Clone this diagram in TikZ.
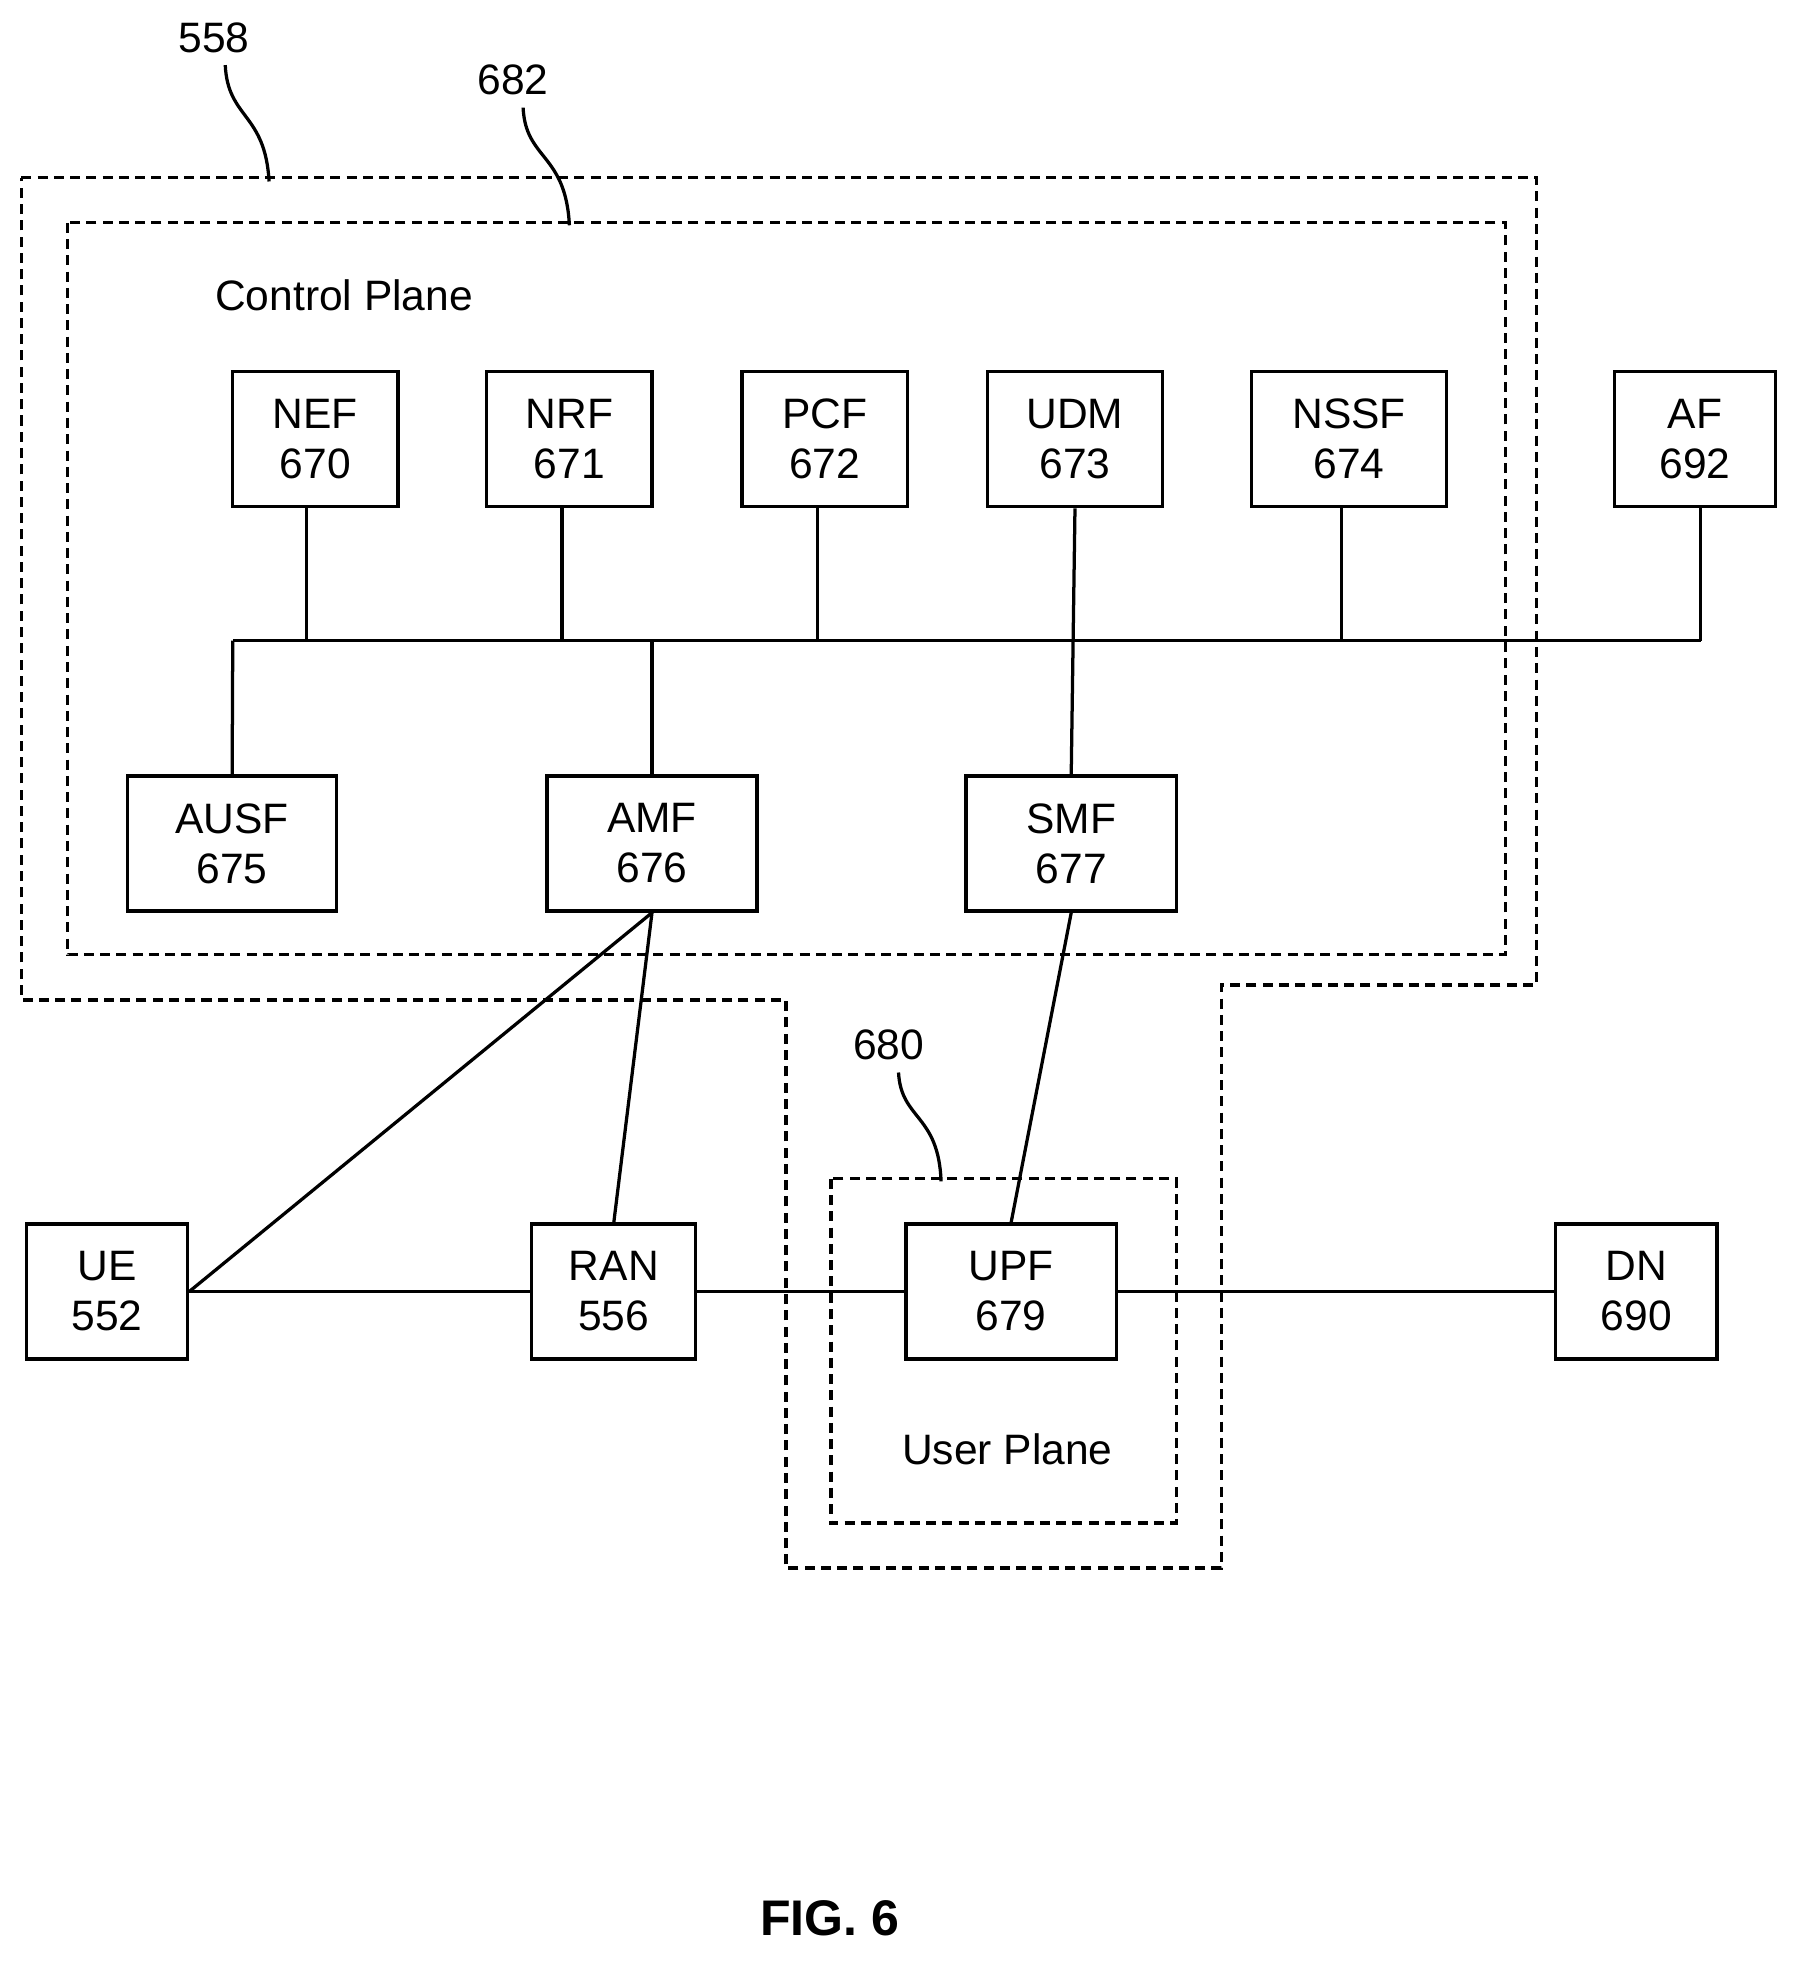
\documentclass[tikz,border=0pt]{standalone}
\usepackage{fontspec}
\setmainfont{Liberation Sans}
\usetikzlibrary{positioning}
\begin{document}
\begin{tikzpicture}[x=0.5pt,y=-0.5pt,
    font=\fontsize{17}{20}\selectfont,
    every node/.style={inner sep=0pt},
    nf/.style={draw, line width=1.3pt, align=center, minimum height=54pt},
    plane/.style={draw, line width=1.3pt, dash pattern=on 4pt off 2.5pt},
    link/.style={line width=1.3pt},
    lead/.style={line width=1.3pt},
  ]
  \useasboundingbox (0,0) rectangle (1440,1571);
  % planes
  \draw[plane] (17,142) -- (1228,142) -- (1228,787) -- (976,787) -- (976,1253)
    -- (628,1253) -- (628,799) -- (17,799) -- cycle;
  \draw[plane] (54,178) rectangle (1203,763);
  \draw[plane] (664,942) rectangle (940,1217);
  \node (cp) at (275,236) {Control Plane};
  \node (up) at (805,1158) {User Plane};

  % control plane functions
  \node[nf, minimum width=66pt] (nef) at (252,351) {NEF\\670};
  \node[nf, minimum width=66pt] (nrf) at (455,351) {NRF\\671};
  \node[nf, minimum width=66pt] (pcf) at (659,351) {PCF\\672};
  \node[nf, minimum width=70pt] (udm) at (859,351) {UDM\\673};
  \node[nf, minimum width=78pt] (nssf) at (1078,351) {NSSF\\674};
  \node[nf, minimum width=64.5pt] (af) at (1354.5,351) {AF\\692};
  \node[nf, minimum width=83.5pt] (ausf) at (185.5,674) {AUSF\\675};
  \node[nf, minimum width=84pt] (amf) at (521,674) {AMF\\676};
  \node[nf, minimum width=84pt] (smf) at (856,674) {SMF\\677};

  % user side
  \node[nf, minimum width=64.5pt] (ue) at (85.5,1032) {UE\\552};
  \node[nf, minimum width=65.5pt] (ran) at (490.5,1032) {RAN\\556};
  \node[nf, minimum width=84pt] (upf) at (808,1032) {UPF\\679};
  \node[nf, minimum width=64.5pt] (dn) at (1307.5,1032) {DN\\690};

  % service bus
  \coordinate (busL) at (186,512);
  \coordinate (busR) at (1359,512);
  \draw[link] (busL) -- (busR);
  \draw[link] (245,405) -- (245,512);
  \draw[link] (449,405) -- (449,512);
  \draw[link] (653,405) -- (653,512);
  \draw[link] (udm.south) -- (smf.north);
  \draw[link] (1072,405) -- (1072,512);
  \draw[link] (1359,405) -- (busR);
  \draw[link] (ausf.north) -- (busL);
  \draw[link] (amf.north) -- (521,512);

  % access links
  \draw[link] (amf.south) -- (ue.east);
  \draw[link] (amf.south) -- (ran.north);
  \draw[link] (smf.south) -- (upf.north);
  \draw[link] (ue) -- (ran) -- (upf) -- (dn);

  % reference numerals
  \node (n558) at (171,30) {558};
  \node (n682) at (410,64) {682};
  \node (n680) at (710,835) {680};
  \draw[lead] (180,52) .. controls (182,95) and (212,90) .. (215,145);
  \draw[lead] (418,86) .. controls (420,128) and (452,122) .. (455,180);
  \draw[lead] (718,857) .. controls (720,895) and (750,890) .. (752,944);

  \node[font=\fontsize{20}{24}\selectfont\bfseries] (fig) at (663,1533) {FIG. 6};
\end{tikzpicture}
\end{document}
